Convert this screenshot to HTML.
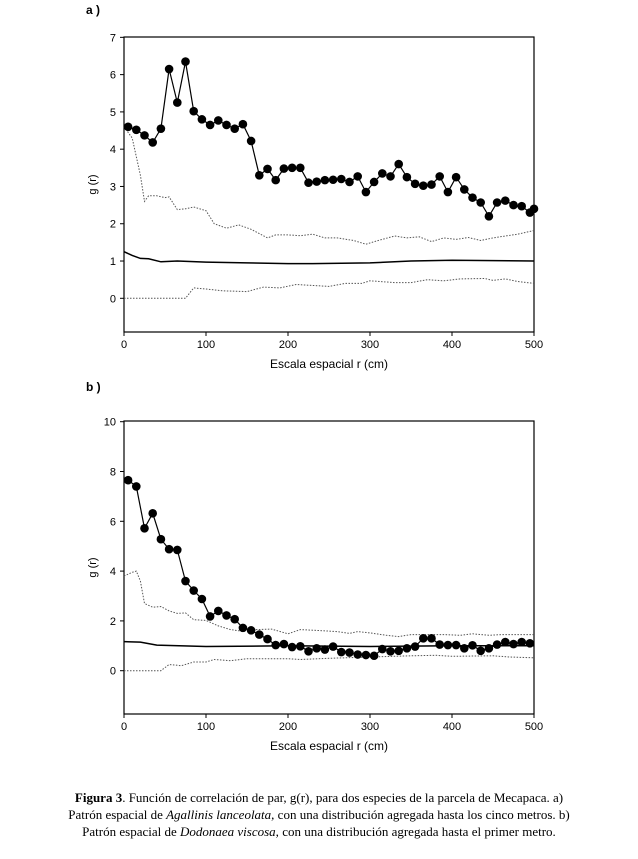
<!DOCTYPE html>
<html><head><meta charset="utf-8"><style>
body{margin:0;background:#fff;width:638px;height:859px;overflow:hidden}
svg{position:absolute;left:0;top:0}
.cap{position:absolute;left:0;width:638px;text-align:center;font-family:"Liberation Serif",serif;font-size:13px;line-height:17px;top:789px;color:#000}
</style></head><body>
<svg id="chart" width="638" height="780" font-family="Liberation Sans, sans-serif"></svg>
<div class="cap"><b>Figura 3</b>. Función de correlación de par, g(r), para dos especies de la parcela de Mecapaca. a)<br>Patrón espacial de <i>Agallinis lanceolata,</i> con una distribución agregada hasta los cinco metros. b)<br>Patrón espacial de <i>Dodonaea viscosa,</i> con una distribución agregada hasta el primer metro.</div>
<script>
const xTicks=[0,100,200,300,400,500];
const aYTicks=[0,1,2,3,4,5,6,7];
const bYTicks=[0,2,4,6,8,10];
const aObsR=[5,15,25,35,45,55,65,75,85,95,105,115,125,135,145,155,165,175,185,195,205,215,225,235,245,255,265,275,285,295,305,315,325,335,345,355,365,375,385,395,405,415,425,435,445,455,465,475,485,495,500];
const aObsG=[4.6,4.52,4.37,4.18,4.55,6.15,5.25,6.35,5.02,4.8,4.65,4.77,4.65,4.55,4.67,4.22,3.3,3.47,3.17,3.48,3.5,3.5,3.1,3.13,3.17,3.18,3.2,3.12,3.27,2.85,3.12,3.35,3.27,3.6,3.25,3.07,3.02,3.05,3.27,2.85,3.25,2.92,2.7,2.57,2.2,2.57,2.62,2.5,2.47,2.3,2.4];
const aUpR=[0,10,20,25,30,40,50,55,65,75,85,100,110,125,140,155,175,185,200,215,230,245,260,280,295,310,330,345,360,375,390,405,420,435,450,465,480,500];
const aUpG=[4.6,4.3,3.3,2.6,2.75,2.75,2.7,2.72,2.38,2.4,2.45,2.35,2.0,1.88,1.97,1.85,1.62,1.7,1.7,1.68,1.72,1.62,1.62,1.55,1.45,1.55,1.67,1.62,1.65,1.52,1.62,1.58,1.63,1.55,1.62,1.67,1.72,1.82];
const aMeanR=[0,10,20,30,45,65,100,150,200,230,300,350,400,500];
const aMeanG=[1.25,1.15,1.07,1.06,0.98,1.0,0.97,0.95,0.93,0.93,0.95,1.0,1.02,1.0];
const aLoR=[0,75,85,100,120,150,170,190,210,250,270,290,300,330,350,370,390,410,440,450,465,480,500];
const aLoG=[0,0,0.28,0.25,0.2,0.18,0.3,0.28,0.37,0.32,0.4,0.4,0.47,0.42,0.42,0.5,0.47,0.52,0.53,0.48,0.52,0.45,0.4];
const bObsR=[5,15,25,35,45,55,65,75,85,95,105,115,125,135,145,155,165,175,185,195,205,215,225,235,245,255,265,275,285,295,305,315,325,335,345,355,365,375,385,395,405,415,425,435,445,455,465,475,485,495];
const bObsG=[7.65,7.4,5.72,6.32,5.28,4.88,4.85,3.6,3.22,2.88,2.18,2.4,2.22,2.07,1.72,1.62,1.45,1.27,1.03,1.07,0.95,0.98,0.78,0.9,0.85,0.97,0.75,0.73,0.65,0.63,0.6,0.87,0.78,0.8,0.9,0.97,1.3,1.3,1.05,1.03,1.03,0.9,1.02,0.8,0.9,1.05,1.15,1.07,1.15,1.1];
const bUpR=[0,10,15,20,25,35,45,55,65,75,85,100,115,130,145,160,180,200,215,235,260,275,285,300,320,335,350,370,390,410,425,445,460,480,500];
const bUpG=[3.8,3.95,4.0,3.6,2.7,2.55,2.58,2.4,2.3,2.32,2.05,2.02,1.8,1.65,1.58,1.65,1.67,1.48,1.65,1.62,1.57,1.5,1.57,1.52,1.42,1.37,1.45,1.45,1.45,1.42,1.48,1.42,1.45,1.45,1.45];
const bMeanR=[0,20,40,100,200,300,400,500];
const bMeanG=[1.17,1.15,1.03,0.97,1.0,0.97,1.0,1.0];
const bLoR=[0,45,55,70,85,100,110,130,150,200,215,250,300,350,380,400,450,470,500];
const bLoG=[0,0,0.25,0.2,0.35,0.35,0.45,0.4,0.48,0.48,0.45,0.5,0.55,0.6,0.62,0.58,0.6,0.55,0.52];

const svg=document.getElementById('chart');
const NS='http://www.w3.org/2000/svg';
function mk(tag,attrs,parent){const e=document.createElementNS(NS,tag);for(const k in attrs)e.setAttribute(k,attrs[k]);(parent||svg).appendChild(e);return e;}
function chart(cfg){
  const L=124,R=534,T=cfg.top,B=cfg.bottom;
  const xs=v=>L+(v/500)*(R-L);
  const ys=v=>cfg.y0+(cfg.yMax-v)*0+ (cfg.zeroY-(v)*cfg.unit) - cfg.y0;
  const g=mk('g',{});
  
  
  const fr=mk('rect',{x:L,y:T,width:R-L,height:B-T,fill:'none',stroke:'#000','stroke-width':1.2},g);
  
  const lab=mk('text',{x:86,y:cfg.labelY,'font-size':12,'font-weight':'bold'},g);lab.textContent=cfg.label;
  
  cfg.yTicks.forEach(v=>{const y=ys(v);mk('line',{x1:L,x2:L-4,y1:y,y2:y,stroke:'#000'},g);
    const t=mk('text',{x:L-8,y:y+4,'font-size':11,'text-anchor':'end'},g);t.textContent=v;
    });
  xTicks.forEach(v=>{const x=xs(v);mk('line',{x1:x,x2:x,y1:B,y2:B+4,stroke:'#000'},g);
    const t=mk('text',{x:x,y:B+16,'font-size':11,'text-anchor':'middle'},g);t.textContent=v;
    });
  const xt=mk('text',{x:329,y:B+36,'font-size':12,'text-anchor':'middle'},g);xt.textContent='Escala espacial r (cm)';
  
  const my=(T+B)/2;
  const yt=mk('text',{x:96,y:my,'font-size':11,'text-anchor':'middle',transform:`rotate(-90 96 ${my})`},g);yt.textContent='g (r)';
  
  const pts=(r,v)=>r.map((x,i)=>xs(x).toFixed(1)+','+ys(v[i]).toFixed(1)).join(' ');
  const up=mk('polyline',{points:pts(cfg.upR,cfg.upG),fill:'none',stroke:'#555','stroke-width':1,'stroke-dasharray':'1.5,1.5'},g);
  
  const lo=mk('polyline',{points:pts(cfg.loR,cfg.loG),fill:'none',stroke:'#555','stroke-width':1,'stroke-dasharray':'1.5,1.5'},g);
  
  const mn=mk('polyline',{points:pts(cfg.meanR,cfg.meanG),fill:'none',stroke:'#000','stroke-width':1.5},g);
  
  const ob=mk('polyline',{points:pts(cfg.obsR,cfg.obsG),fill:'none',stroke:'#000','stroke-width':1.2},g);
  
  cfg.obsR.forEach((r,i)=>{const c=mk('circle',{cx:xs(r),cy:ys(cfg.obsG[i]),r:4.3,fill:'#000'},g);
    });
}
chart({name:'chart-a',label:'a )',labelY:14,top:37,bottom:332,zeroY:298.3,unit:37.28,y0:0,yMax:0,yTicks:aYTicks,
  obsR:aObsR,obsG:aObsG,upR:aUpR,upG:aUpG,meanR:aMeanR,meanG:aMeanG,loR:aLoR,loG:aLoG});
chart({name:'chart-b',label:'b )',labelY:391,top:421,bottom:714,zeroY:670.7,unit:24.9,y0:0,yMax:0,yTicks:bYTicks,
  obsR:bObsR,obsG:bObsG,upR:bUpR,upG:bUpG,meanR:bMeanR,meanG:bMeanG,loR:bLoR,loG:bLoG});
</script>
</body></html>
